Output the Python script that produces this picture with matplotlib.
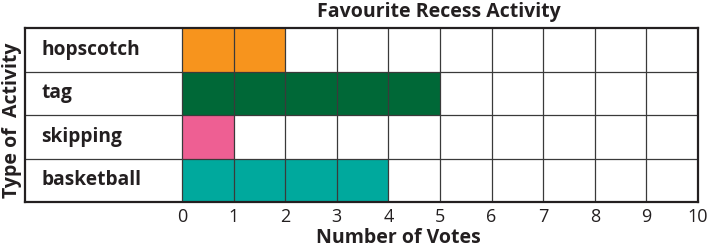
import matplotlib.pyplot as plt

activities = ['hopscotch', 'tag', 'skipping', 'basketball']
votes = [2, 5, 1, 4]
colors = ['#F7941D', '#006837', '#EE5F93', '#00A99D']
ticks = list(range(0, 11))

plt.rcParams['font.family'] = ['Open Sans', 'DejaVu Sans']

fig = plt.figure(figsize=(7.07, 2.5), dpi=100)
ax = fig.add_axes([25 / 707, 1 - 202 / 250, 673 / 707, 174 / 250])

label_left = -3.04
ax.set_xlim(label_left, 10)
ax.set_ylim(len(activities), 0)

for i, (name, v, c) in enumerate(zip(activities, votes, colors)):
    ax.barh(i + 0.5, v, height=1.0, left=0, color=c, edgecolor='none', zorder=1)
    ax.text(label_left + 0.32, i + 0.5, name, fontsize=13.8, fontweight='bold',
            color='#231f20', va='center', ha='left')

# vertical grid lines at each vote count
for t in ticks:
    ax.plot([t, t], [0, len(activities)], color='#3a3a3a', lw=0.9, zorder=2)
# horizontal row separators across the full width
for j in range(1, len(activities)):
    ax.plot([label_left, 10], [j, j], color='#3a3a3a', lw=0.9, zorder=2)

for s in ax.spines.values():
    s.set_color('#231f20')
    s.set_linewidth(1.6)

ax.set_yticks([])
ax.set_xticks(ticks)
ax.set_xticklabels([str(t) for t in ticks], fontsize=13, color='#231f20')
ax.tick_params(axis='x', length=0, pad=4)

ax.text(4.97, -0.37, 'Favourite Recess Activity', fontsize=14, fontweight='bold',
        color='#231f20', ha='center', va='center')
ax.text(4.2, len(activities) + 0.83, 'Number of Votes', fontsize=14, fontweight='bold',
        color='#231f20', ha='center', va='center')
fig.text(12 / 707, 1 - 120 / 250, 'Type of  Activity', fontsize=14, fontweight='bold',
         color='#231f20', ha='center', va='center', rotation=90)

fig.savefig('out.png', dpi=100)
